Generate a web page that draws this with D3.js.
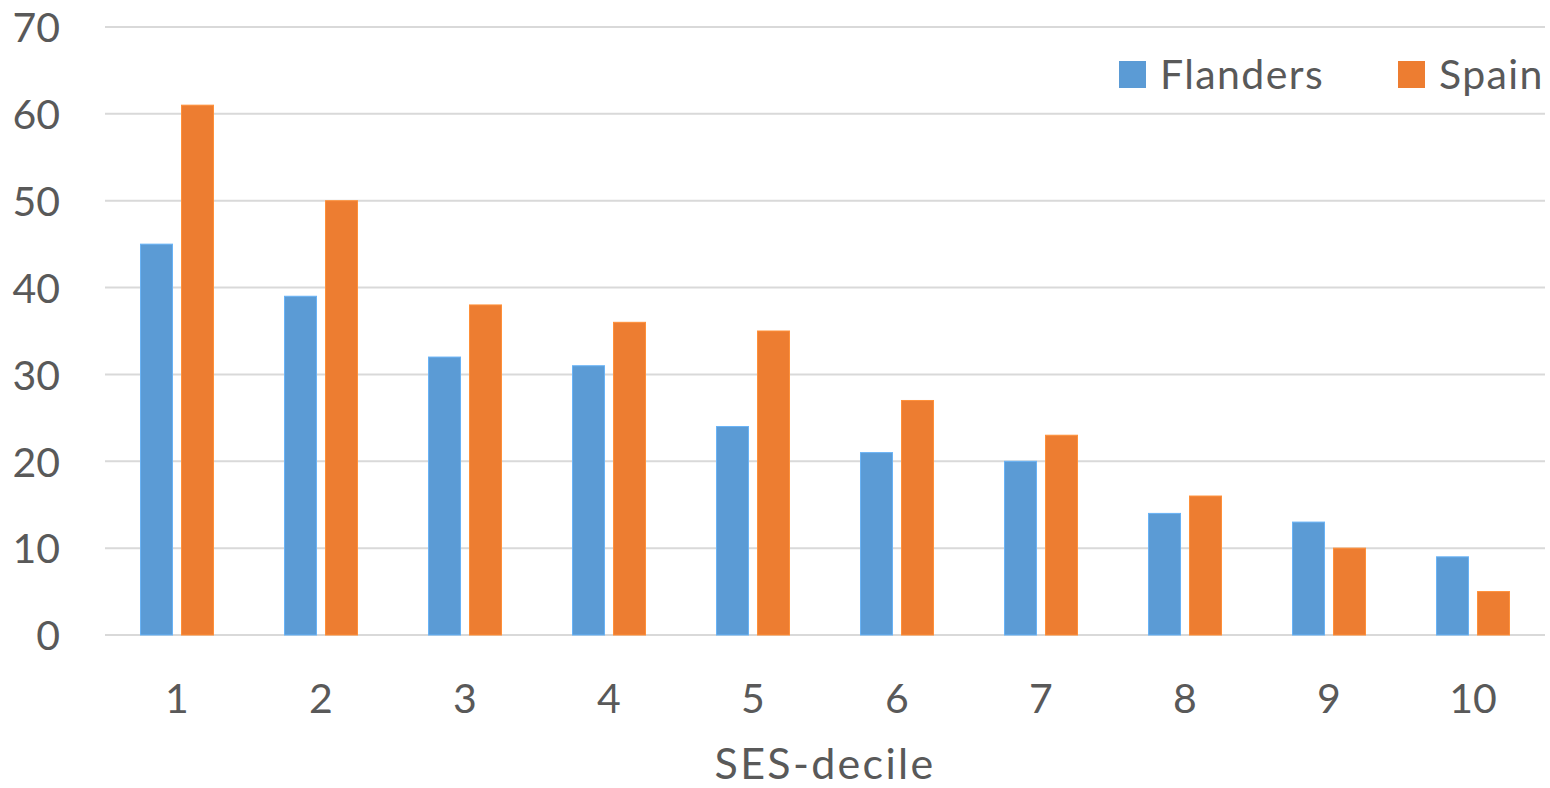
<!DOCTYPE html>
<html>
<head>
<meta charset="utf-8">
<script src="https://cdn.jsdelivr.net/npm/d3@7"></script>
<style>
  html, body { margin: 0; padding: 0; background: #fff; }
  svg { display: block; }
  text { font-family: Lato, "Open Sans", sans-serif; fill: #595959; }
</style>
</head>
<body>
<svg id="chart" width="1550" height="788"></svg>
<script>
// SES deciles and the share per region
const deciles = ["1", "2", "3", "4", "5", "6", "7", "8", "9", "10"];
const flanders = [45, 39, 32, 31, 24, 21, 20, 14, 13, 9];
const spain = [61, 50, 38, 36, 35, 27, 23, 16, 10, 5];
const seriesNames = ["Flanders", "Spain"];
const seriesColors = ["#5B9BD5", "#ED7D31"];
const yTicks = [0, 10, 20, 30, 40, 50, 60, 70];

const svg = d3.select("#chart");
const plotLeft = 105, plotRight = 1545, plotTop = 27, plotBottom = 635;

const x = d3.scaleBand().domain(deciles).range([plotLeft, plotRight]).paddingInner(0).paddingOuter(0);
const y = d3.scaleLinear().domain([0, 70]).range([plotBottom, plotTop]);

const barW = 32, gap = 9;
const inner = d3.scaleOrdinal().domain(seriesNames)
  .range([-(barW + gap / 2), gap / 2]);

// horizontal gridlines
svg.append("g")
  .selectAll("line")
  .data(yTicks)
  .join("line")
  .attr("x1", plotLeft).attr("x2", plotRight)
  .attr("y1", d => y(d)).attr("y2", d => y(d))
  .attr("stroke", "#D9D9D9").attr("stroke-width", 2);

// y labels
const yAxis = d3.axisLeft(y).tickValues(yTicks).tickSize(0).tickPadding(0);
const gy = svg.append("g").attr("transform", "translate(60,0)").call(yAxis);
gy.select(".domain").remove();
gy.selectAll("text")
  .attr("font-size", 41).attr("dy", "0.36em")
  .style("font-family", "Lato, 'Open Sans', sans-serif").attr("fill", "#595959");

// x labels
const xAxis = d3.axisBottom(x).tickSize(0).tickPadding(0);
const gx = svg.append("g").attr("transform", "translate(0,683)").call(xAxis);
gx.select(".domain").remove();
gx.selectAll("text")
  .attr("font-size", 41).attr("dy", "0.72em")
  .style("font-family", "Lato, 'Open Sans', sans-serif").attr("fill", "#595959");

// bars
const series = [flanders, spain];
series.forEach((vals, si) => {
  svg.append("g")
    .selectAll("rect")
    .data(vals)
    .join("rect")
    .attr("x", (d, i) => x(deciles[i]) + x.bandwidth() / 2 + inner(seriesNames[si]))
    .attr("y", d => y(d))
    .attr("width", barW)
    .attr("height", d => y(0) - y(d))
    .attr("fill", seriesColors[si])
    .attr("stroke", d3.color(seriesColors[si]).brighter(0.4))
    .attr("stroke-width", 1);
});

// axis title
svg.append("text")
  .attr("x", (plotLeft + plotRight) / 2).attr("y", 779)
  .attr("text-anchor", "middle")
  .attr("font-size", 43)
  .attr("letter-spacing", 2.3)
  .text("SES-decile");

// legend
const legendPos = [1119, 1398];
const legend = svg.append("g");
seriesNames.forEach((name, i) => {
  legend.append("rect")
    .attr("x", legendPos[i]).attr("y", 61)
    .attr("width", 27).attr("height", 27)
    .attr("fill", seriesColors[i]);
  legend.append("text")
    .attr("x", legendPos[i] + 41).attr("y", 89)
    .attr("font-size", 41)
    .attr("letter-spacing", 1.4)
    .text(name);
});
</script>
</body>
</html>
